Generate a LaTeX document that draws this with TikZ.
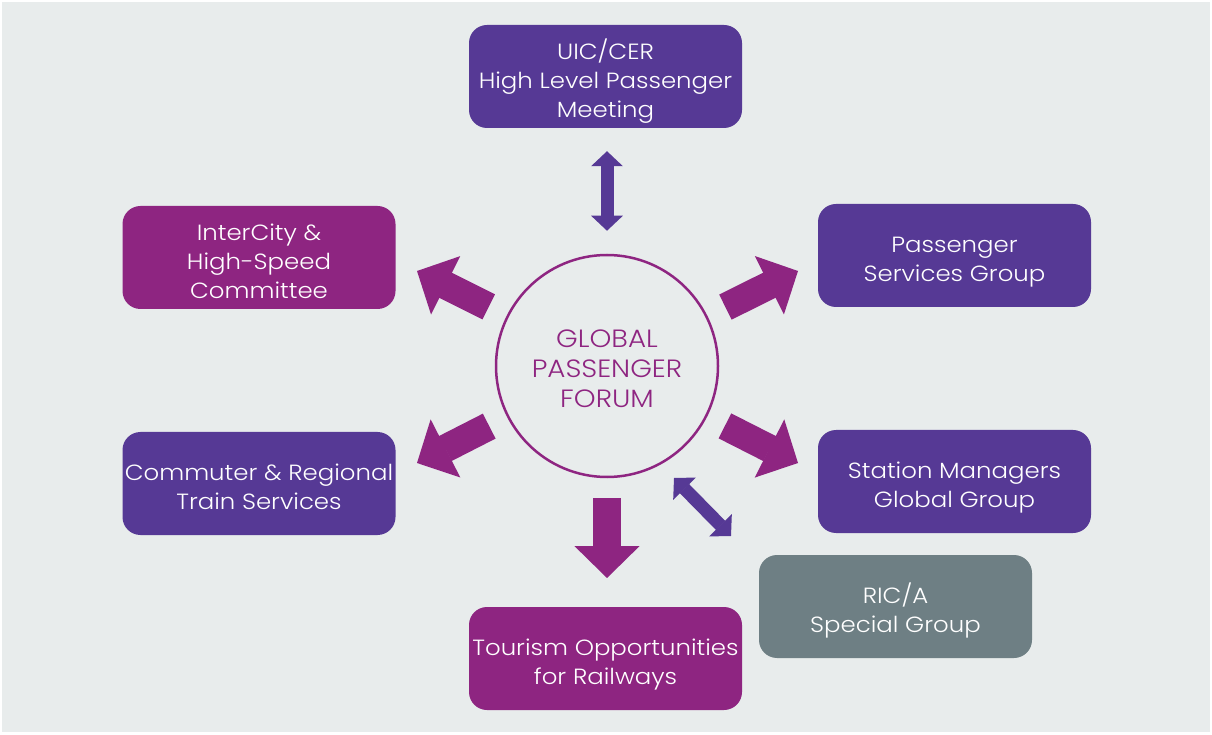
\documentclass[tikz,border=0pt]{standalone}
\usepackage{fontspec}
\setmainfont{Poppins Light}[FakeStretch=1.11]
\usetikzlibrary{arrows.meta}

\definecolor{gpfpurple}{HTML}{563995}
\definecolor{gpfmagenta}{HTML}{8E2581}
\definecolor{gpfgrey}{HTML}{6E7F84}
\definecolor{gpfbg}{HTML}{E8ECEC}

% first-line struts
\newcommand{\grouptop}{\rule{0pt}{30.4pt}}
\newcommand{\hubtop}{\rule{0pt}{24.1pt}}

\begin{document}
\begin{tikzpicture}[
    x=1pt, y=1pt,
    group/.style={rectangle, rounded corners=18pt, minimum width=273pt, minimum height=103pt,
        inner sep=0pt, text=white, align=center, font=\fontsize{22}{29}\selectfont,
        execute at end node=\rule[-7pt]{0pt}{7pt}},
    hub/.style={circle, draw=gpfmagenta, line width=2.5pt, fill=gpfbg, minimum size=222pt,
        text=gpfmagenta, align=center, font=\fontsize{25}{30}\selectfont,
        execute at end node=\rule[-2pt]{0pt}{2pt}},
    fat/.style={gpfmagenta, line width=28pt, shorten <=20pt,
        -{Triangle[length=32pt, width=65pt, line width=1.5pt]}},
    both/.style={gpfpurple, line width=13pt,
        {Triangle[length=15pt, width=31.5pt, line width=1.5pt]}-{Triangle[length=15pt, width=31.5pt, line width=1.5pt]}}
]

    % Background
    \useasboundingbox (0,0) rectangle (1212,734);
    \fill[white] (0,0) rectangle (1212,734);
    \fill[gpfbg] (2,2) rectangle (1210,732);

    % Nodes
    \node[hub] (gpf) at (607,368) {\hubtop GLOBAL\\PASSENGER\\FORUM};
    \node[group, fill=gpfpurple] (uic) at (605.5,657.5) {\grouptop UIC/CER\\High Level Passenger\\Meeting};
    \node[group, fill=gpfmagenta] (ichs) at (259,476.5) {\grouptop InterCity \&\\High-Speed\\Committee};
    \node[group, fill=gpfpurple] (psg) at (954.5,478.5) {\grouptop Passenger\\Services Group};
    \node[group, fill=gpfpurple] (crts) at (259,250.5) {\grouptop Commuter \& Regional\\Train Services};
    \node[group, fill=gpfpurple] (smgg) at (954.5,252.5) {\grouptop Station Managers\\Global Group};
    \node[group, fill=gpfgrey] (rica) at (895.5,127.5) {\grouptop RIC/A\\Special Group};
    \node[group, fill=gpfmagenta] (tor) at (605.5,75.5) {\grouptop Tourism Opportunities\\for Railways};

    % Arrow tips
    \coordinate (ichsTip) at (417,463);
    \coordinate (psgTip) at (798,463);
    \coordinate (crtsTip) at (417,271);
    \coordinate (smggTip) at (798,271);
    \coordinate (torTip) at (607,156);
    \coordinate (ricaIn) at (674,256);
    \coordinate (ricaOut) at (731,198);

    % Outgoing arrows
    \draw[fat] (gpf) -- (ichsTip);
    \draw[fat] (gpf) -- (psgTip);
    \draw[fat] (gpf) -- (crtsTip);
    \draw[fat] (gpf) -- (smggTip);
    \draw[fat] (gpf) -- (torTip);

    % Two-way links
    \draw[both, shorten <=23pt, shorten >=23pt] (gpf.north) -- (gpf.north |- uic.south);
    \draw[both] (ricaIn) -- (ricaOut);

\end{tikzpicture}
\end{document}
